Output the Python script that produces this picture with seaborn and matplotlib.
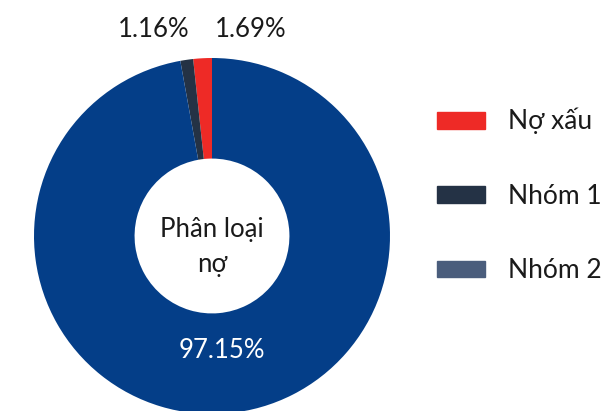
import matplotlib
matplotlib.use("Agg")
import matplotlib.pyplot as plt
import matplotlib.patches as mpatches
import seaborn as sns

# Data
categories = ["Nợ xấu", "Nhóm 1", "Nhóm 2"]
values = [1.69, 1.16, 97.15]
slice_colors = ["#ee2a26", "#243245", "#043e88"]
legend_colors = ["#ee2a26", "#243245", "#4a5d7c"]
center_label = "Phân loại\nnợ"

sns.set_theme(style="white")
plt.rcParams["font.family"] = ["Lato", "DejaVu Sans"]

fig = plt.figure(figsize=(6.04, 4.11), dpi=100)
ax = fig.add_axes([0, 0, 1, 1])

# Donut, counter-clockwise from 12 o'clock
wedges, texts, autotexts = ax.pie(
    values,
    colors=slice_colors,
    startangle=90,
    counterclock=True,
    radius=1.0,
    wedgeprops=dict(width=0.565, linewidth=0),
    autopct="%.2f%%",
    pctdistance=0.645,
    textprops=dict(fontsize=18.5),
)

# small slices: labels above the ring
autotexts[0].set_position((0.22, 1.16))
autotexts[1].set_position((-0.33, 1.16))
for t in autotexts[:2]:
    t.set_color("#1a1a1a")
autotexts[2].set_color("white")

ax.text(0, -0.06, center_label, ha="center", va="center", fontsize=18.5,
        color="#1a1a1a", linespacing=1.5)

ax.set_xlim(-212 / 178, 392 / 178)
ax.set_ylim(-175 / 178, 236 / 178)
ax.set_aspect("equal")
ax.axis("off")

handles = [mpatches.Patch(color=c, label=l) for c, l in zip(legend_colors, categories)]
ax.legend(handles=handles, loc="upper left", bbox_to_anchor=(437 / 604, 1 - 108 / 411),
          bbox_transform=fig.transFigure, frameon=False, fontsize=19,
          handlelength=1.82, handleheight=0.6, handletextpad=0.87,
          labelspacing=1.87, borderpad=0, borderaxespad=0, labelcolor="#1a1a1a")

fig.savefig("out.png", dpi=100)
